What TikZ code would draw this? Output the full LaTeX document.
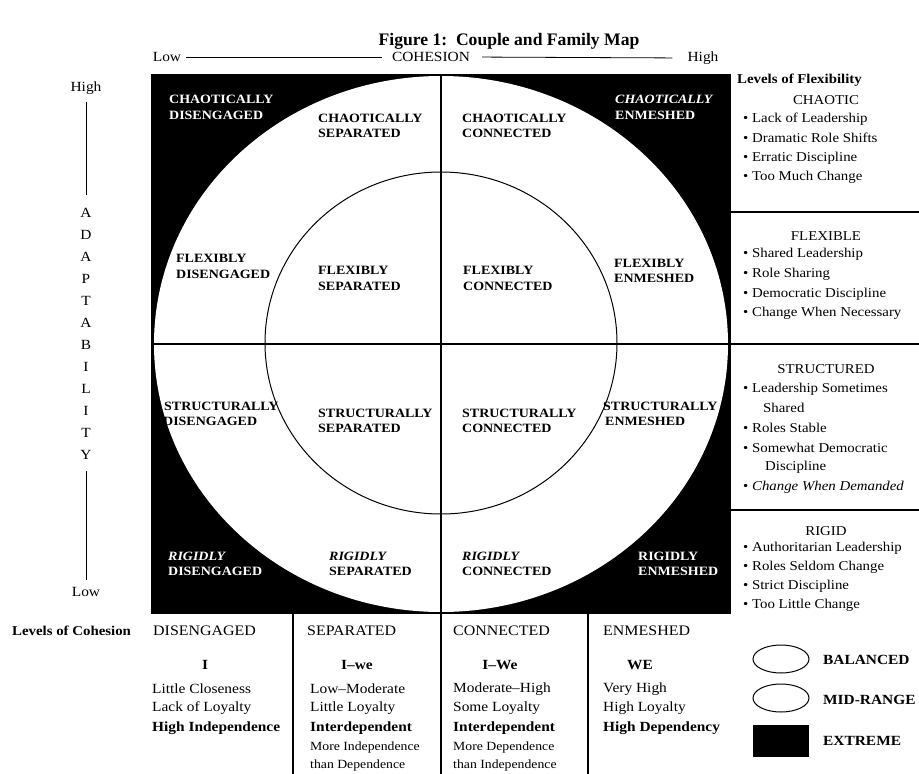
\documentclass[tikz,border=0pt]{standalone}
\usepackage{fontspec}
\setmainfont{Liberation Serif}[FakeStretch=1.1]
\newfontfamily\titlefont{Liberation Serif}
\tikzset{
  cell/.style={font=\bfseries\fontsize{12.7}{15.5}\selectfont, align=left, anchor=west, inner sep=0pt},
  wcell/.style={cell, text=white},
  ax/.style={font=\fontsize{14}{16}\selectfont, inner sep=0pt},
  rp/.style={font=\fontsize{13.5}{16}\selectfont, anchor=west, inner sep=0pt},
  rh/.style={font=\fontsize{13.5}{16}\selectfont, inner sep=0pt},
  tb/.style={font=\fontsize{14}{16}\selectfont, anchor=west, inner sep=0pt},
  tbs/.style={font=\fontsize{12.5}{14}\selectfont, anchor=west, inner sep=0pt},
  hd/.style={font=\fontsize{14.5}{16}\selectfont, anchor=west, inner sep=0pt},
  divider/.style={line width=1.1pt},
  thin/.style={line width=0.8pt},
}
\begin{document}
\begin{tikzpicture}[x=1pt,y=-1pt]
\useasboundingbox (0,0) rectangle (919,774);
\fill[white] (0,0) rectangle (919,774);

% title
\node[font=\titlefont\bfseries\fontsize{17.6}{20}\selectfont, inner sep=0pt] (title) at (509,41) {Figure 1:\ \ Couple and Family Map};

% cohesion axis
\node[ax] (lowC) at (167,57) {Low};
\node[ax] (coh) at (431,57) {COHESION};
\node[ax] (highC) at (703,58) {High};
\draw[thin, shorten <=5pt, shorten >=10pt] (lowC.east) -- (coh.west);
\draw[thin, shorten <=12pt, shorten >=15pt] (coh.east) -- (highC.west);

% adaptability axis
\node[ax] (highA) at (86,88) {High};
\node[ax] (lowA) at (86,592) {Low};
\foreach \l [count=\k] in {A,D,A,P,T,A,B,I,L,I,T,Y}
  \node[ax] (ad\k) at (86,{191+22*\k}) {\l};
\draw[thin, shorten <=7pt, shorten >=13pt] (highA.south) -- (ad1.north);
\draw[thin, shorten <=11pt, shorten >=7pt] (ad12.south) -- (lowA.north);

% map
\fill[black] (151,74) rectangle (731,614);
\fill[white] (441,344) ellipse [x radius=287pt, y radius=268pt];
\draw[line width=1pt] (441,343) ellipse [x radius=176pt, y radius=171pt];
\draw[divider] (441,74) -- (441,774);
\draw[divider] (151,344) -- (919,344);
\draw[divider] (731,212) -- (919,212);
\draw[divider] (731,510) -- (919,510);
\draw[divider] (293,614) -- (293,774);
\draw[divider] (588,614) -- (588,774);

% cell labels
\node[wcell] (cd) at (169,107.5) {CHAOTICALLY\\DISENGAGED};
\node[cell] (cs) at (318,126) {CHAOTICALLY\\SEPARATED};
\node[cell] (cc) at (462,126) {CHAOTICALLY\\CONNECTED};
\node[wcell] (ce) at (615,107.5) {\itshape CHAOTICALLY\\ENMESHED};
\node[cell] (fd) at (176,266.5) {FLEXIBLY\\DISENGAGED};
\node[cell] (fs) at (318,278.5) {FLEXIBLY\\SEPARATED};
\node[cell] (fc) at (463,278.5) {FLEXIBLY\\CONNECTED};
\node[cell] (fe) at (614,271) {FLEXIBLY\\ENMESHED};
\node[cell] (sd) at (163,414) {\hspace*{1pt}STRUCTURALLY\\DISENGAGED};
\node[cell] (ss) at (318,421) {STRUCTURALLY\\SEPARATED};
\node[cell] (sc) at (462,421) {STRUCTURALLY\\CONNECTED};
\node[cell] (se) at (603,414) {STRUCTURALLY\\\hspace*{2pt}ENMESHED};
\node[wcell] (rd) at (168,564) {\itshape RIGIDLY\\DISENGAGED};
\node[cell] (rs) at (329,564) {\itshape RIGIDLY\\SEPARATED};
\node[cell] (rc) at (462,564) {\itshape RIGIDLY\\CONNECTED};
\node[wcell] (re) at (638,564) {RIGIDLY\\ENMESHED};

% right panel
\node[rp, font=\bfseries\fontsize{13.5}{16}\selectfont] (lof) at (737,80) {Levels of Flexibility};
\node[rh] (chaotic) at (826,100) {CHAOTIC};
\foreach \y/\t [count=\k] in {119/Lack of Leadership, 138/Dramatic Role Shifts, 158/Erratic Discipline, 177/Too Much Change}
  \node[rp] (ch\k) at (743,\y) {•\ \t};
\node[rh] (flexible) at (826,236) {FLEXIBLE};
\foreach \y/\t [count=\k] in {254/Shared Leadership, 274/Role Sharing, 294/Democratic Discipline, 313/Change When Necessary}
  \node[rp] (fl\k) at (743,\y) {•\ \t};
\node[rh] (structured) at (826,369) {STRUCTURED};
\foreach \y/\t [count=\k] in {389/Leadership Sometimes, 428/Roles Stable, 448/Somewhat Democratic, 487/{\itshape Change When Demanded}}
  \node[rp] (st\k) at (743,\y) {•\ \t};
\node[rp] (st5) at (763,408) {Shared};
\node[rp] (st6) at (765,467) {Discipline};
\node[rh] (rigid) at (826,531) {RIGID};
\foreach \y/\t [count=\k] in {548/Authoritarian Leadership, 567/Roles Seldom Change, 586/Strict Discipline, 605/Too Little Change}
  \node[rp] (rg\k) at (743,\y) {•\ \t};

% bottom table
\node[hd, font=\bfseries\fontsize{13.5}{16}\selectfont] (loc) at (12,631) {Levels of Cohesion};
\node[hd] (hdis) at (153,631) {DISENGAGED};
\node[hd] (hsep) at (307,631) {SEPARATED};
\node[hd] (hcon) at (453,631) {CONNECTED};
\node[hd] (henm) at (603,631) {ENMESHED};

\node[tb, anchor=center, font=\bfseries\fontsize{14}{16}\selectfont] (i1) at (205,665) {I};
\node[tb, anchor=center, font=\bfseries\fontsize{14}{16}\selectfont] (i2) at (357,665) {I–we};
\node[tb, anchor=center, font=\bfseries\fontsize{14}{16}\selectfont] (i3) at (500,665) {I–We};
\node[tb, anchor=center, font=\bfseries\fontsize{14}{16}\selectfont] (i4) at (640,665) {WE};

\node[tb] (d1) at (152,689) {Little Closeness};
\node[tb] (d2) at (152,708.5) {Lack of Loyalty};
\node[tb] (d3) at (152,728) {\bfseries High Independence};

\node[tb] (s1) at (310,689) {Low–Moderate};
\node[tb] (s2) at (310,708.5) {Little Loyalty};
\node[tb] (s3) at (310,728) {\bfseries Interdependent};
\node[tbs] (s4) at (310,747) {More Independence};
\node[tbs] (s5) at (310,765) {than Dependence};

\node[tb] (c1) at (453,689) {Moderate–High};
\node[tb] (c2) at (453,708.5) {Some Loyalty};
\node[tb] (c3) at (453,728) {\bfseries Interdependent};
\node[tbs] (c4) at (453,747) {More Dependence};
\node[tbs] (c5) at (453,765) {than Independence};

\node[tb] (e1) at (603,689) {Very High};
\node[tb] (e2) at (603,708.5) {High Loyalty};
\node[tb] (e3) at (603,728) {\bfseries High Dependency};

% legend
\draw[line width=1pt] (781,659) ellipse [x radius=28pt, y radius=14pt];
\draw[line width=1pt] (781,698) ellipse [x radius=28pt, y radius=14pt];
\fill[black] (753,725) rectangle (809,757);
\node[tb, font=\bfseries\fontsize{14}{16}\selectfont] (lb) at (823,660) {BALANCED};
\node[tb, font=\bfseries\fontsize{14}{16}\selectfont] (lm) at (823,700) {MID-RANGE};
\node[tb, font=\bfseries\fontsize{14}{16}\selectfont] (le) at (823,741) {EXTREME};
\end{tikzpicture}
\end{document}
